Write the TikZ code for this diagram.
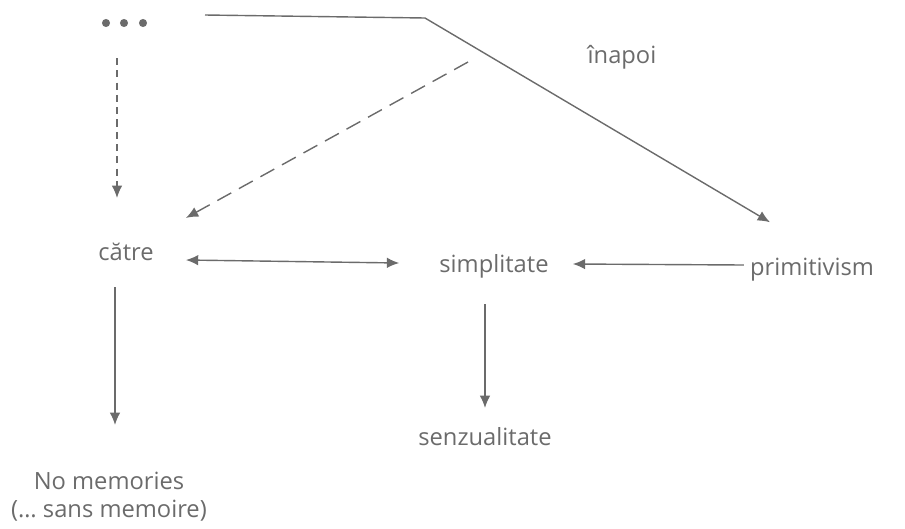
\documentclass[tikz,border=0pt]{standalone}
\usepackage{fontspec}
\setmainfont{Open Sans}
\usetikzlibrary{arrows.meta,positioning}
\definecolor{ink}{gray}{0.42}

\begin{document}
\begin{tikzpicture}[x=0.02cm,y=-0.02cm,>={Latex[length=7pt,width=6pt]},
  font=\fontsize{13.5}{16}\selectfont,
  every node/.style={text=ink},
  link/.style={draw=ink,line width=0.8pt}]
\useasboundingbox (0,0) rectangle (905,528);
% labels
\node (catre) at (126,252) {către};
\node (simpl) at (494,266) {simplitate};
\node (prim) at (812,270) {primitivism};
\node (inap) at (622,57) {înapoi};
\node (senz) at (485,437) {senzualitate};
\node[align=center,inner sep=1pt] (nomem) at (109,497) {No memories\\(\dots{} sans memoire)};
% the three dots
\foreach \x in {106,124,143}{\fill[ink] (\x,23) circle (2.3pt);}
\coordinate (dtop) at (117,58);
\coordinate (lstart) at (205,15);
\coordinate (lbend) at (425,18);
\coordinate (dashst) at (468,62);
% arrows
\draw[link,->,dash pattern=on 4pt off 3pt] (dtop) -- (117,198);
\draw[link,->] (lstart) -- (lbend) -- ([shift={(-42,-30)}]prim.north);
\draw[link,->,dash pattern=on 9pt off 5pt] (dashst) -- ([shift={(26,-19)}]catre.north east);
\draw[link,<->] ([shift={(26,8)}]catre.east) -- ([shift={(-34,-3)}]simpl.west);
\draw[link,->] ([shift={(0,-5)}]prim.west) -- ([shift={(18,-2)}]simpl.east);
\draw[link,->] (catre.south -| 115,0) ++(0,20) -- (115,425);
\draw[link,->] (simpl.south -| senz.north) ++(0,20) -- (485,408);
\end{tikzpicture}
\end{document}
